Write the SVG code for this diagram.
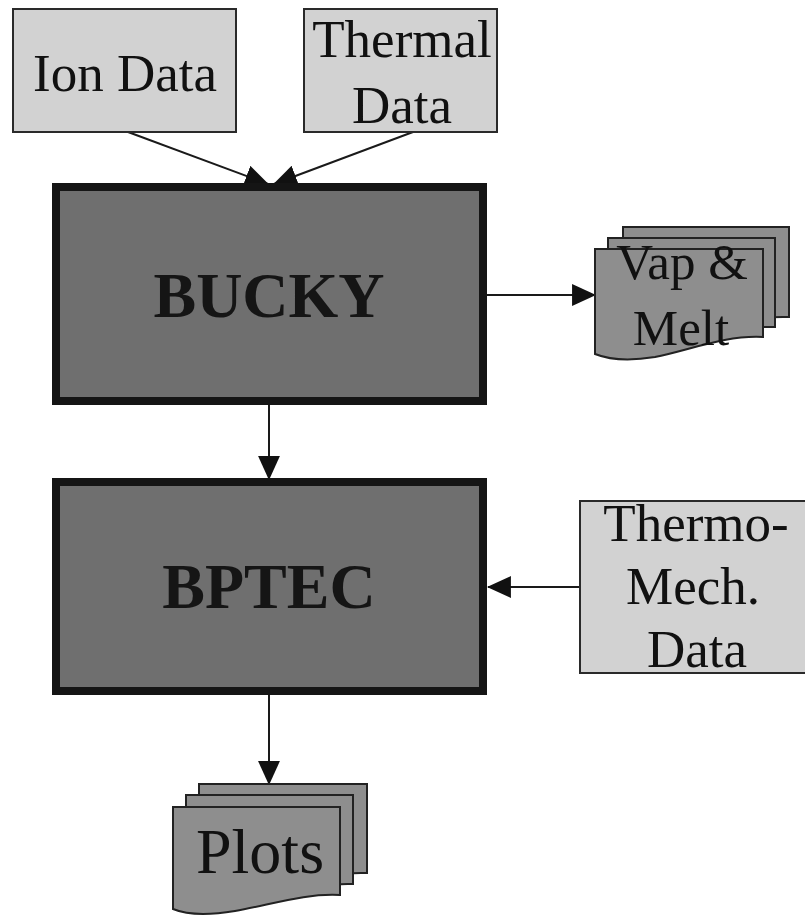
<svg xmlns="http://www.w3.org/2000/svg" width="805" height="916" viewBox="0 0 805 916">
<defs>
<style>
.light{fill:#d2d2d2;stroke:#2a2a2a;stroke-width:2}
.dark{fill:#6f6f6f;stroke:#151515;stroke-width:8}
.doc{fill:#8e8e8e;stroke:#222;stroke-width:2}
.t{font-family:"Liberation Serif","Times New Roman",serif;fill:#111;text-anchor:middle}
.b{font-weight:bold;fill:#151515}
.c{stroke:#1a1a1a;stroke-width:2;fill:none;marker-end:url(#ah)}
</style>
<marker id="ah" markerUnits="userSpaceOnUse" markerWidth="24" markerHeight="22" viewBox="0 0 22 20" refX="21" refY="10" orient="auto">
<path d="M0,0 L22,10 L0,20 Z" fill="#111"/>
</marker>
</defs>
<rect width="805" height="916" fill="#ffffff"/>
<g id="connectors">
<line class="c" x1="128" y1="132" x2="268" y2="184"/>
<line class="c" x1="413" y1="132" x2="274" y2="184"/>
<line class="c" x1="487" y1="295" x2="595" y2="295"/>
<line class="c" x1="269" y1="405" x2="269" y2="479"/>
<line class="c" x1="580" y1="587" x2="488" y2="587"/>
<line class="c" x1="269" y1="695" x2="269" y2="784"/>
</g>
<g id="ion-data">
<rect class="light" x="13" y="9" width="223" height="123"/>
<text class="t" x="125" y="91" font-size="53">Ion Data</text>
</g>
<g id="thermal-data">
<rect class="light" x="304" y="9" width="193" height="123"/>
<text class="t" x="402" y="57" font-size="53">Thermal</text>
<text class="t" x="402" y="123" font-size="53">Data</text>
</g>
<g id="bucky">
<rect class="dark" x="56" y="187" width="427" height="214"/>
<text class="t b" x="269" y="317" font-size="64">BUCKY</text>
</g>
<g id="vap-melt">
<path class="doc" d="M623,227 H789 V317 C760,316 740,322 720,327 L623,327 Z"/>
<path class="doc" d="M608,238 H775 V327 C746,326 726,333 706,338 L608,338 Z"/>
<path class="doc" d="M595,249 H763 V337 C725,335 690,350 655,357 C625,362 605,358 595,354 Z"/>
<text class="t" x="682" y="279" font-size="51">Vap &amp;</text>
<text class="t" x="681" y="345" font-size="51">Melt</text>
</g>
<g id="bptec">
<rect class="dark" x="56" y="482" width="427" height="209"/>
<text class="t b" x="269" y="608" font-size="64">BPTEC</text>
</g>
<g id="thermo-mech-data">
<rect class="light" x="580" y="501" width="232" height="172"/>
<text class="t" x="696" y="541" font-size="53">Thermo-</text>
<text class="t" x="693" y="604" font-size="53">Mech.</text>
<text class="t" x="697" y="667" font-size="53">Data</text>
</g>
<g id="plots">
<path class="doc" d="M199,784 H367 V873 C338,872 318,878 298,883 L199,883 Z"/>
<path class="doc" d="M186,795 H353 V884 C324,883 304,890 284,895 L186,895 Z"/>
<path class="doc" d="M173,807 H340 V895 C305,893 270,905 235,911 C205,916 185,914 173,909 Z"/>
<text class="t" x="260" y="873" font-size="64">Plots</text>
</g>
</svg>
